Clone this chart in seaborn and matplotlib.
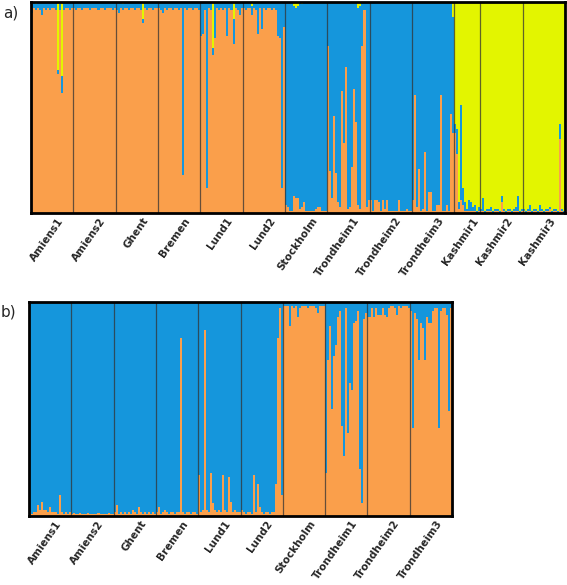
import numpy as np
import pandas as pd
import matplotlib
matplotlib.use("Agg")
import matplotlib.pyplot as plt
import seaborn as sns
from matplotlib.transforms import ScaledTranslation

sns.set_style("white")
plt.rcParams['font.family'] = ['DejaVu Sans']

ORANGE = '#FA9F4B'
BLUE = '#1596DC'
YELLOW = '#E3F500'

# ---------------- panel a ----------------
pops_a = ["Amiens1", "Amiens2", "Ghent", "Bremen", "Lund1", "Lund2", "Stockholm",
          "Trondheim1", "Trondheim2", "Trondheim3", "Kashmir1", "Kashmir2", "Kashmir3"]

# ancestry fractions (orange / yellow) per individual, by population; blue is the rest
a_orange = [
    [0.95, 0.97, 0.96, 0.97, 0.96, 0.94, 0.97, 0.96, 0.97, 0.96, 0.97, 0.97, 0.96, 0.66, 0.96, 0.57, 0.96, 0.97, 0.97, 0.96, 0.97],
    [0.97, 0.96, 0.97, 0.97, 0.96, 0.97, 0.97, 0.97, 0.96, 0.97, 0.97, 0.97, 0.96, 0.97, 0.97, 0.96, 0.97, 0.97, 0.97, 0.96, 0.97],
    [0.96, 0.95, 0.97, 0.96, 0.97, 0.97, 0.96, 0.97, 0.97, 0.96, 0.97, 0.97, 0.96, 0.90, 0.97, 0.96, 0.97, 0.97, 0.96, 0.97, 0.97],
    [0.97, 0.96, 0.95, 0.97, 0.96, 0.97, 0.97, 0.96, 0.97, 0.97, 0.96, 0.97, 0.18, 0.97, 0.96, 0.97, 0.97, 0.96, 0.97, 0.97, 0.96],
    [0.84, 0.85, 0.96, 0.12, 0.97, 0.96, 0.75, 0.83, 0.97, 0.96, 0.97, 0.96, 0.97, 0.84, 0.97, 0.96, 0.80, 0.97, 0.96, 0.94, 0.97],
    [0.97, 0.96, 0.97, 0.97, 0.94, 0.97, 0.96, 0.85, 0.97, 0.87, 0.97, 0.96, 0.97, 0.97, 0.96, 0.97, 0.96, 0.84, 0.83, 0.12, 0.88],
    [0.04, 0.03, 0.01, 0.01, 0.08, 0.07, 0.07, 0.02, 0.03, 0.05, 0.01, 0.01, 0.01, 0.01, 0.01, 0.02, 0.03, 0.03, 0.01, 0.01, 0.01],
    [0.79, 0.20, 0.07, 0.46, 0.19, 0.05, 0.03, 0.58, 0.33, 0.69, 0.02, 0.03, 0.22, 0.59, 0.43, 0.04, 0.02, 0.79, 0.96, 0.03, 0.06],
    [0.06, 0.01, 0.06, 0.06, 0.05, 0.01, 0.06, 0.02, 0.06, 0.01, 0.01, 0.01, 0.01, 0.01, 0.06, 0.01, 0.01, 0.01, 0.02, 0.01, 0.01],
    [0.06, 0.56, 0.03, 0.21, 0.01, 0.02, 0.29, 0.01, 0.10, 0.10, 0.01, 0.01, 0.04, 0.04, 0.56, 0.01, 0.01, 0.04, 0.01, 0.47, 0.38],
    [0.38, 0.28, 0.02, 0.06, 0.04, 0.01, 0.01, 0.01, 0.01, 0.01, 0.01, 0.00, 0.01],
    [0.01, 0.01, 0.00, 0.01, 0.01, 0.01, 0.00, 0.01, 0.01, 0.00, 0.05, 0.01, 0.00, 0.01, 0.01, 0.00, 0.01, 0.01, 0.01, 0.00, 0.01],
    [0.01, 0.00, 0.01, 0.01, 0.00, 0.01, 0.01, 0.00, 0.01, 0.01, 0.00, 0.01, 0.01, 0.02, 0.00, 0.01, 0.01, 0.00, 0.35, 0.01, 0.00],
]
a_yellow = [
    [0.00, 0.00, 0.01, 0.00, 0.00, 0.00, 0.00, 0.00, 0.00, 0.00, 0.00, 0.00, 0.00, 0.32, 0.01, 0.35, 0.00, 0.00, 0.00, 0.00, 0.00],
    [0.00] * 21,
    [0.00, 0.00, 0.00, 0.01, 0.00, 0.00, 0.00, 0.00, 0.00, 0.00, 0.00, 0.00, 0.00, 0.08, 0.00, 0.00, 0.00, 0.00, 0.00, 0.00, 0.00],
    [0.00] * 21,
    [0.00, 0.00, 0.00, 0.00, 0.00, 0.00, 0.22, 0.00, 0.00, 0.00, 0.00, 0.00, 0.00, 0.00, 0.00, 0.00, 0.08, 0.00, 0.00, 0.00, 0.00],
    [0.00, 0.00, 0.00, 0.00, 0.02, 0.00, 0.00, 0.00, 0.00, 0.00, 0.00, 0.00, 0.00, 0.00, 0.00, 0.00, 0.00, 0.00, 0.00, 0.00, 0.00],
    [0.00, 0.00, 0.00, 0.00, 0.02, 0.03, 0.02, 0.00, 0.01, 0.00, 0.00, 0.00, 0.00, 0.00, 0.00, 0.00, 0.00, 0.00, 0.00, 0.00, 0.00],
    [0.00, 0.00, 0.00, 0.00, 0.00, 0.00, 0.00, 0.00, 0.00, 0.00, 0.00, 0.00, 0.00, 0.00, 0.00, 0.03, 0.02, 0.00, 0.00, 0.00, 0.00],
    [0.00] * 21,
    [0.00, 0.00, 0.00, 0.00, 0.00, 0.00, 0.00, 0.00, 0.00, 0.00, 0.00, 0.00, 0.00, 0.00, 0.00, 0.00, 0.00, 0.00, 0.00, 0.00, 0.07],
    [0.58, 0.60, 0.95, 0.49, 0.88, 0.95, 0.98, 0.94, 0.95, 0.97, 0.96, 0.99, 0.97],
    [0.98, 0.93, 0.99, 0.98, 0.98, 0.97, 0.99, 0.98, 0.98, 0.99, 0.92, 0.98, 0.99, 0.98, 0.98, 0.99, 0.98, 0.97, 0.92, 0.99, 0.98],
    [0.98, 0.99, 0.98, 0.96, 0.99, 0.98, 0.98, 0.99, 0.96, 0.98, 0.99, 0.98, 0.98, 0.97, 0.99, 0.98, 0.98, 0.99, 0.58, 0.98, 0.99],
]

# ---------------- panel b ----------------
pops_b = ["Amiens1", "Amiens2", "Ghent", "Bremen", "Lund1", "Lund2", "Stockholm",
          "Trondheim1", "Trondheim2", "Trondheim3"]

# orange fraction per individual; blue is the rest
b_orange = [
    [0.02, 0.01, 0.02, 0.02, 0.05, 0.03, 0.065, 0.03, 0.03, 0.02, 0.04, 0.02, 0.02, 0.02, 0.01, 0.10, 0.02, 0.01, 0.02, 0.01, 0.02],
    [0.01, 0.015, 0.01, 0.01, 0.015, 0.01, 0.01, 0.01, 0.015, 0.01, 0.01, 0.01, 0.01, 0.015, 0.01, 0.01, 0.01, 0.01, 0.015, 0.01, 0.01],
    [0.02, 0.05, 0.01, 0.02, 0.01, 0.02, 0.01, 0.02, 0.01, 0.03, 0.02, 0.01, 0.04, 0.02, 0.01, 0.02, 0.01, 0.02, 0.01, 0.02, 0.01],
    [0.02, 0.04, 0.01, 0.02, 0.03, 0.02, 0.01, 0.02, 0.02, 0.01, 0.02, 0.02, 0.83, 0.02, 0.01, 0.02, 0.02, 0.01, 0.02, 0.02, 0.01],
    [0.19, 0.02, 0.03, 0.87, 0.03, 0.02, 0.20, 0.06, 0.03, 0.02, 0.03, 0.02, 0.19, 0.03, 0.02, 0.18, 0.065, 0.02, 0.03, 0.02, 0.02],
    [0.03, 0.02, 0.01, 0.02, 0.02, 0.01, 0.19, 0.02, 0.15, 0.04, 0.02, 0.01, 0.02, 0.02, 0.01, 0.02, 0.02, 0.15, 0.83, 0.97, 0.10],
    [0.98, 0.98, 0.98, 0.89, 0.98, 0.97, 0.98, 0.93, 0.97, 0.98, 0.98, 0.98, 0.97, 0.98, 0.98, 0.98, 0.97, 0.95, 0.98, 0.98, 0.98],
    [0.20, 0.73, 0.89, 0.50, 0.75, 0.80, 0.93, 0.96, 0.42, 0.28, 0.97, 0.39, 0.62, 0.59, 0.90, 0.91, 0.96, 0.22, 0.06, 0.92, 0.95],
    [0.93, 0.93, 0.97, 0.93, 0.97, 0.94, 0.94, 0.97, 0.94, 0.93, 0.97, 0.98, 0.98, 0.97, 0.94, 0.98, 0.97, 0.98, 0.98, 0.98, 0.97],
    [0.96, 0.41, 0.95, 0.92, 0.73, 0.90, 0.88, 0.73, 0.93, 0.90, 0.90, 0.96, 0.97, 0.97, 0.41, 0.96, 0.97, 0.97, 0.94, 0.49, 0.97],
]


def stacked_structure(ax, layers, names, sizes):
    """layers: list of (color, cumulative heights) drawn tallest first."""
    n = sum(sizes)
    pos = np.arange(n)
    for color, h in layers:
        df = pd.DataFrame({"ind": pos, "q": h})
        sns.barplot(data=df, x="ind", y="q", color=color, width=1.0,
                    native_scale=True, saturation=1, linewidth=0,
                    errorbar=None, ax=ax)
    for p in ax.patches:
        p.set_antialiased(False)
    bounds = np.cumsum(sizes)[:-1] - 0.5
    for b in bounds:
        ax.axvline(b, color='#333333', lw=0.9, alpha=0.75)
    starts = np.concatenate([[0], np.cumsum(sizes)[:-1]])
    centers = starts + np.array(sizes) / 2 - 0.5
    ax.set_xlim(-0.5, n - 0.5)
    ax.set_ylim(0, 1)
    ax.set_yticks([])
    ax.set_xticks(centers)
    ax.set_xticklabels(names, rotation=55, ha='right', va='top',
                       rotation_mode='anchor', fontsize=7.5, fontweight='bold')
    ax.tick_params(axis='x', length=0, pad=2)
    off = ScaledTranslation(5 / 100, 0, ax.figure.dpi_scale_trans)
    for lab in ax.get_xticklabels():
        lab.set_transform(lab.get_transform() + off)
    ax.set_xlabel("")
    ax.set_ylabel("")
    for s in ax.spines.values():
        s.set_visible(True)
        s.set_linewidth(2.0)
        s.set_color('black')
        s.set_zorder(5)


W, H = 567, 585
fig = plt.figure(figsize=(W / 100, H / 100), dpi=100)

# panel a
sizes_a = [len(g) for g in a_orange]
oa = np.concatenate(a_orange)
ya = np.concatenate(a_yellow)
ba = 1 - oa - ya
axa = fig.add_axes([31 / W, 1 - 213 / H, (565 - 31) / W, (213 - 2) / H])
stacked_structure(axa, [(YELLOW, oa + ba + ya), (BLUE, oa + ba), (ORANGE, oa)],
                  pops_a, sizes_a)

# panel b
sizes_b = [len(g) for g in b_orange]
ob = np.concatenate(b_orange)
bb = 1 - ob
axb = fig.add_axes([29 / W, 1 - 516 / H, (452 - 29) / W, (516 - 302) / H])
stacked_structure(axb, [(BLUE, ob + bb), (ORANGE, ob)], pops_b, sizes_b)

fig.text(3 / W, 1 - 13 / H, "a)", fontsize=11, va='center', ha='left')
fig.text(1 / W, 1 - 312 / H, "b)", fontsize=11, va='center', ha='left')

fig.savefig("out.png", dpi=100, facecolor='white')
